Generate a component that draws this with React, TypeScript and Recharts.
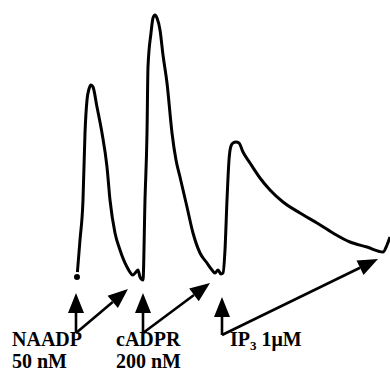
import { Line, LineChart, ReferenceDot, ReferenceLine, XAxis, YAxis } from 'recharts';

// Ca2+ trace: time (s) and fluorescence (arbitrary units, baseline = 0)
const traceTime = [
  0, 3, 6, 8, 10, 12, 14, 16, 20, 25, 30, 33, 38, 43, 50, 56, 59, 61, 63, 66,
  68, 70, 71, 74, 76, 78, 80, 83, 86, 90, 95, 99, 103, 110, 116, 123, 130, 135, 138, 141,
  144, 146, 148, 150, 152, 154, 156, 159, 162, 166, 173, 183, 193, 206, 223, 240, 256, 273, 290, 306,
  310, 313,
];
const traceSignal = [
  0, 37, 77, 144, 177, 188, 192, 190, 170, 144, 110, 77, 44, 27, 10, 2, 5, 7, 0, -3,
  77, 144, 210, 244, 259, 262, 259, 247, 222, 194, 144, 117, 100, 70, 44, 24, 14, 7, 4, 7,
  3, 4, 27, 77, 117, 131, 134, 135, 134, 125, 114, 99, 87, 75, 64, 54, 44, 35, 30, 25,
  32, 40,
];

// additions: arrow base and tip
const arrowBaseTime = [-1, -1, 66, 66, 145, 145];
const arrowBaseSignal = [-56, -56, -56, -56, -58, -58];
const arrowTipTime = [-1, 51, 66, 133, 145, 301];
const arrowTipSignal = [-16, -12, -16, -6, -20, 18];

// labels
const labelLines1 = ['NAADP', 'cADPR', 'IP3 1\u03bcM'];
const labelLines2 = ['50 nM', '200 nM', ''];
const labelTime = [-65, 39, 153];
const labelSignal = [-69, -69, -69];

const data = traceTime.map((t, i) => ({ t, f: traceSignal[i] }));

const FONT = "'Liberation Serif', 'DejaVu Serif', serif";

const Arrow = (props: any) => {
  const { x1, y1, x2, y2 } = props;
  const dx = x2 - x1;
  const dy = y2 - y1;
  const len = Math.sqrt(dx * dx + dy * dy) || 1;
  const ux = dx / len;
  const uy = dy / len;
  const head = 20;
  const half = 8;
  const bx = x2 - ux * head;
  const by = y2 - uy * head;
  const pts = `${x2},${y2} ${bx - uy * half},${by + ux * half} ${bx + uy * half},${by - ux * half}`;
  return (
    <g>
      <line x1={x1} y1={y1} x2={bx} y2={by} stroke="#000" strokeWidth={2.6} />
      <polygon points={pts} fill="#000" />
    </g>
  );
};

const makeLabel = (i: number) => (props: any) => {
  const { cx, cy } = props;
  const first = labelLines1[i];
  return (
    <text x={cx} y={cy} fontFamily={FONT} fontSize={20} fontWeight="bold" fill="#000">
      {first.startsWith('IP3') ? (
        <>
          <tspan>IP</tspan>
          <tspan fontSize={13} dy={4}>3</tspan>
          <tspan dy={-4}>{first.slice(3)}</tspan>
        </>
      ) : (
        <tspan>{first}</tspan>
      )}
      {labelLines2[i] && (
        <tspan x={cx} dy={22}>
          {labelLines2[i]}
        </tspan>
      )}
    </text>
  );
};

export default function App() {
  return (
    <div style={{ position: 'absolute', left: 0, top: 0, width: 390, height: 372, background: '#fff' }}>
      <LineChart width={390} height={372} data={data} margin={{ top: 0, right: 0, bottom: 0, left: 0 }}>
        <XAxis dataKey="t" type="number" domain={[-77, 313]} hide />
        <YAxis type="number" domain={[-95, 277]} hide />
        <Line
          type="monotone"
          dataKey="f"
          stroke="#000"
          strokeWidth={3}
          dot={false}
          isAnimationActive={false}
          strokeLinejoin="round"
        />
        <ReferenceDot x={0} y={0} r={2} fill="#000" stroke="#000" />
        {arrowBaseTime.map((bx, i) => (
          <ReferenceLine
            key={`a${i}`}
            segment={[
              { x: bx, y: arrowBaseSignal[i] },
              { x: arrowTipTime[i], y: arrowTipSignal[i] },
            ]}
            shape={Arrow}
            ifOverflow="visible"
          />
        ))}
        {labelTime.map((lx, i) => (
          <ReferenceDot
            key={`l${i}`}
            x={lx}
            y={labelSignal[i]}
            r={0}
            shape={makeLabel(i)}
            ifOverflow="visible"
          />
        ))}
      </LineChart>
    </div>
  );
}
